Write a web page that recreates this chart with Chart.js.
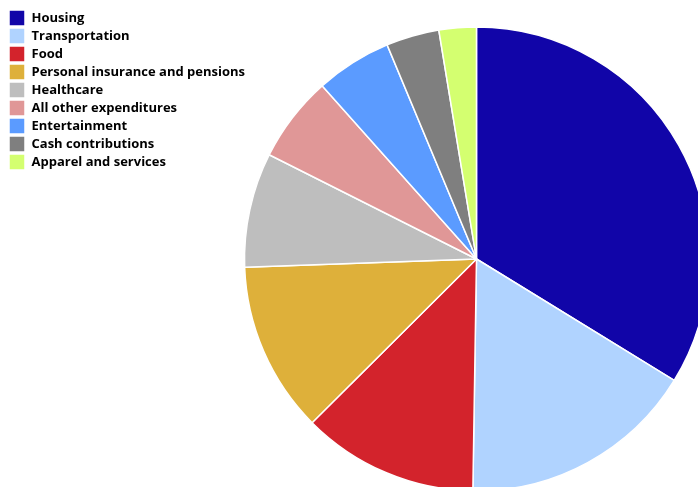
<!DOCTYPE html>
<html lang="en">
<head>
    <meta charset="UTF-8">
    <title>Expenditures pie</title>
    <script src="https://cdn.jsdelivr.net/npm/chart.js"></script>
    <style>
        html, body { margin: 0; padding: 0; background: #fff; overflow: hidden; }
        /* a tela e maior que a janela: a pizza sai um pouco por baixo */
        .container { width: 698px; height: 510px; }
    </style>
</head>
<body>
    <div class="container">
        <canvas id="GraficoPizza"></canvas>
    </div>
<script>
    // categorias e valores (% do total)
    const categorias = ['Housing', 'Transportation', 'Food', 'Personal insurance and pensions',
        'Healthcare', 'All other expenditures', 'Entertainment', 'Cash contributions', 'Apparel and services'];
    const valores = [33.8, 16.5, 12.3, 11.9, 8.0, 6.0, 5.3, 3.7, 2.6];
    const cores = ['#1105A8', '#B0D3FF', '#D3232C', '#DEB03A', '#BEBEBE', '#E09797', '#5B9BFF', '#7F7F7F', '#D4FF70'];

    var grafico = document.getElementById('GraficoPizza');
    var pieChart = new Chart(grafico, {
        type: 'pie',
        data: {
            labels: categorias,
            datasets: [{
                data: valores,
                backgroundColor: cores,
                borderColor: '#FFFFFF',
                borderWidth: 1.5,
                radius: 232
            }]
        },
        options: {
            responsive: true,
            maintainAspectRatio: false,
            animation: false,
            layout: { padding: { left: 7, top: 8, right: 0, bottom: 0 } },
            plugins: {
                tooltip: { enabled: false },
                legend: {
                    position: 'left',
                    align: 'start',
                    labels: {
                        boxWidth: 16,
                        boxHeight: 16,
                        padding: 2,
                        color: '#000',
                        font: { family: 'Open Sans', size: 13, weight: 'bold' }
                    }
                }
            }
        }
    });
</script>
</body>
</html>
